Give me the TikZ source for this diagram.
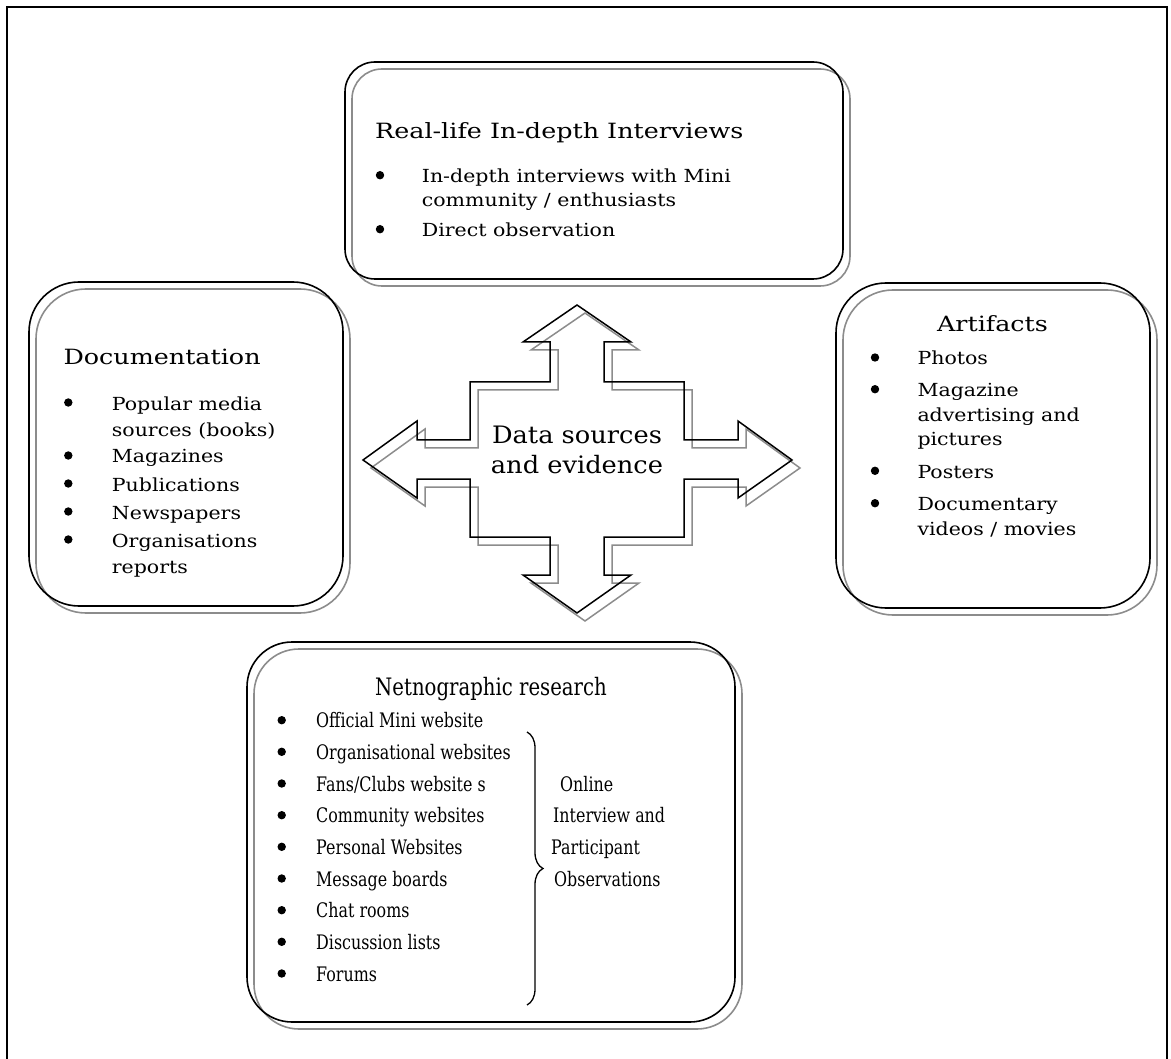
\documentclass[tikz,border=0pt]{standalone}
\usepackage{fontspec}
\setmainfont{DejaVu Serif}
\newfontfamily\headserif[FakeStretch=1.21]{DejaVu Serif}
\newfontfamily\listserif[FakeStretch=1.14]{DejaVu Serif}
\newfontfamily\hubserif[FakeStretch=1.07]{DejaVu Serif}
\newfontfamily\netheadserif[FakeStretch=0.82]{DejaVu Serif}
\newfontfamily\netlistserif[FakeStretch=0.795]{DejaVu Serif}
\usetikzlibrary{decorations.pathreplacing,backgrounds}

\tikzset{
  panel/.style={draw=black, line width=1.6pt, rectangle, inner sep=0pt, outer sep=0pt},
  panelshade/.style={draw=black!45, line width=1.6pt},
  heading/.style={anchor=base west, inner sep=0pt, font=\headserif\fontsize{21}{25}\selectfont},
  entry/.style={anchor=base west, inner sep=0pt, font=\listserif\fontsize{18}{22}\selectfont},
  netheading/.style={anchor=base west, inner sep=0pt, font=\netheadserif\fontsize{24}{28}\selectfont},
  netentry/.style={anchor=base west, inner sep=0pt, font=\netlistserif\fontsize{20}{24}\selectfont},
  hublabel/.style={anchor=base, inner sep=0pt, font=\hubserif\fontsize{24}{28}\selectfont},
  crossline/.style={draw=black, line width=1.5pt, line join=miter},
  crossshade/.style={draw=black!45, line width=1.5pt, line join=miter},
}
% bullet dot sitting on a text baseline
\newcommand\dotat[2]{\fill (#1,#2-7.5) circle (4.2);}

\begin{document}
\begin{tikzpicture}[x=1pt, y=-1pt]
\useasboundingbox (0,0) rectangle (1171,1059);

% outer frame (its lower edge runs just past the page)
\draw[line width=2pt] (7,7) rectangle (1167,1062);

% ---------- the four panels ----------
\node[panel, rounded corners=30pt, minimum width=498pt, minimum height=217pt] (interviews) at (594,170.5) {};
\node[panel, rounded corners=50pt, minimum width=314pt, minimum height=324pt] (documentation) at (186,444) {};
\node[panel, rounded corners=50pt, minimum width=314pt, minimum height=325pt] (artifacts) at (993,445.5) {};
\node[panel, rounded corners=45pt, minimum width=488pt, minimum height=380pt] (netnography) at (491,832) {};

\begin{scope}[on background layer]
  \draw[panelshade, rounded corners=30pt] ([shift={(7,7)}]interviews.north west) rectangle ([shift={(7,7)}]interviews.south east);
  \draw[panelshade, rounded corners=50pt] ([shift={(7,7)}]documentation.north west) rectangle ([shift={(7,7)}]documentation.south east);
  \draw[panelshade, rounded corners=50pt] ([shift={(7,7)}]artifacts.north west) rectangle ([shift={(7,7)}]artifacts.south east);
  \draw[panelshade, rounded corners=45pt] ([shift={(7,7)}]netnography.north west) rectangle ([shift={(7,7)}]netnography.south east);
\end{scope}

% ---------- four-way arrow ----------
\def\crosspath{(577,305) -- (631,342) -- (604,342) -- (604,382) -- (684,382) -- (684,440)
  -- (738,440) -- (738,421) -- (792,460) -- (738,498) -- (738,479) -- (684,479)
  -- (684,537) -- (604,537) -- (604,575) -- (631,575) -- (577,613) -- (523,575)
  -- (550,575) -- (550,537) -- (470,537) -- (470,479) -- (417,479) -- (417,498)
  -- (363,460) -- (417,421) -- (417,440) -- (470,440) -- (470,382) -- (550,382)
  -- (550,342) -- (523,342) -- cycle}
\draw[crossshade, shift={(8,8)}] \crosspath;
\draw[crossline] \crosspath;
\node[hublabel] (hub1) at (577,444) {Data sources};
\node[hublabel] (hub2) at (577,474) {and evidence};

% ---------- Real-life In-depth Interviews ----------
\node[heading] (t1) at (375,139) {Real-life In-depth Interviews};
\dotat{380}{182.7}
\node[entry] (i1a) at (421.7,182.7) {In-depth interviews with Mini};
\node[entry] (i1b) at (421.7,206.7) {community / enthusiasts};
\dotat{380}{236.7}
\node[entry] (i2) at (421.7,236.7) {Direct observation};

% ---------- Documentation ----------
\node[heading] (t2) at (63.3,365) {Documentation};
\dotat{68.3}{410}
\node[entry] (d1a) at (111.7,410) {Popular media};
\node[entry] (d1b) at (111.7,436) {sources (books)};
\dotat{68.3}{463}
\node[entry] (d2) at (111.7,463) {Magazines};
\dotat{68.3}{491}
\node[entry] (d3) at (111.7,491) {Publications};
\dotat{68.3}{519}
\node[entry] (d4) at (111.7,519) {Newspapers};
\dotat{68.3}{547}
\node[entry] (d5a) at (111.7,547) {Organisations};
\node[entry] (d5b) at (111.7,573) {reports};

% ---------- Artifacts ----------
\node[heading, anchor=base] (t3) at (992.5,331.7) {Artifacts};
\dotat{875}{365}
\node[entry] (a1) at (917.3,365) {Photos};
\dotat{875}{396.7}
\node[entry] (a2a) at (917.3,396.7) {Magazine};
\node[entry] (a2b) at (917.3,421.7) {advertising and};
\node[entry] (a2c) at (917.3,445.7) {pictures};
\dotat{875}{478.3}
\node[entry] (a3) at (917.3,478.3) {Posters};
\dotat{875}{510.7}
\node[entry] (a4a) at (917.3,510.7) {Documentary};
\node[entry] (a4b) at (917.3,535.7) {videos / movies};

% ---------- Netnographic research ----------
\node[netheading, anchor=base] (t4) at (491,695) {Netnographic research};
\foreach \yy/\txt [count=\k] in {727.7/Official Mini website, 759.3/Organisational websites,
    791/Fans\slash Clubs website s, 822.7/Community websites, 854.3/Personal Websites,
    886/Message boards, 917.7/Chat rooms, 949.3/Discussion lists, 981/Forums}{
  \dotat{281.7}{\yy}
  \node[netentry] (n\k) at (316,\yy) {\txt};
}
\draw[line width=1.3pt, decorate, decoration={brace, amplitude=16pt}] (527,732) -- (527,1005);
\node[netentry] (o1) at (560,791) {Online};
\node[netentry] (o2) at (553,822.7) {Interview and};
\node[netentry] (o3) at (551,854.3) {Participant};
\node[netentry] (o4) at (554,886) {Observations};
\end{tikzpicture}
\end{document}
